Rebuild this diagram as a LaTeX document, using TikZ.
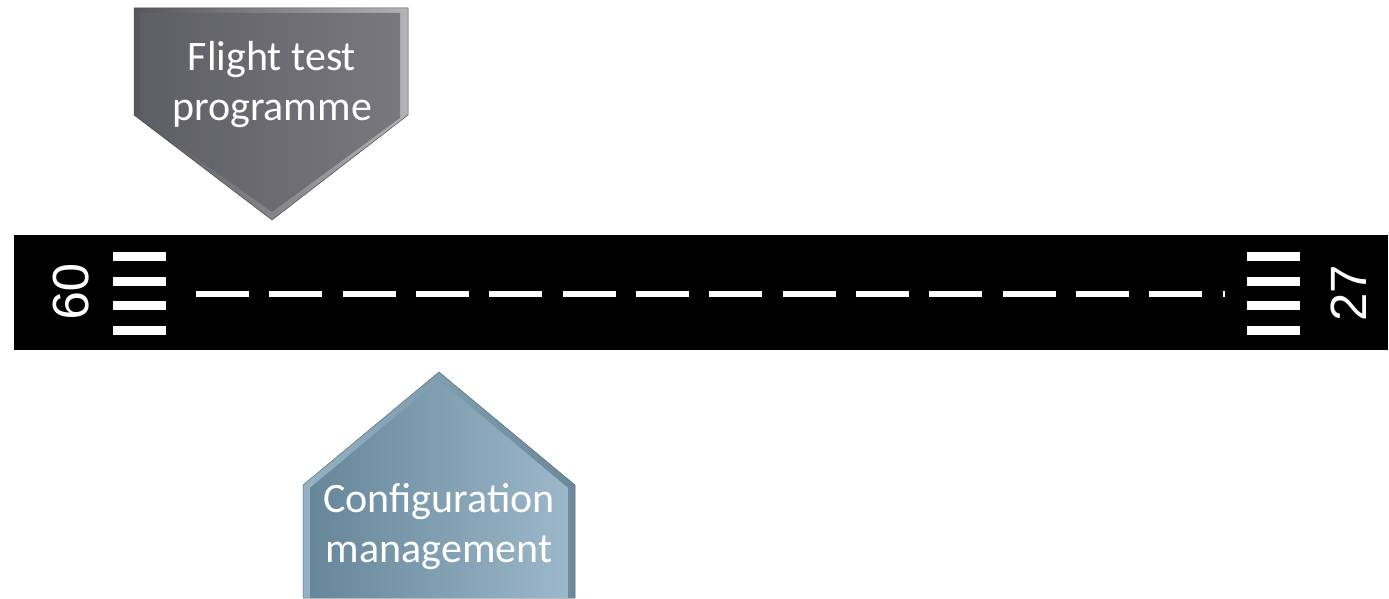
\documentclass[tikz,border=0pt]{standalone}
\usepackage{fontspec}
\setmainfont{Carlito}
\newfontfamily\numfont{Liberation Sans}

\definecolor{greyrimL}{HTML}{56575C}
\definecolor{greyrimR}{HTML}{B2B2B7}
\definecolor{greyfillL}{HTML}{5E5F64}
\definecolor{greyfillR}{HTML}{78787E}
\definecolor{bluerimL}{HTML}{93B2C3}
\definecolor{bluerimR}{HTML}{6C889A}
\definecolor{bluefillL}{HTML}{67869A}
\definecolor{bluefillR}{HTML}{9CB8CA}

\def\barw{53}
\def\barh{9}

\begin{document}
\begin{tikzpicture}[x=1pt,y=1pt,
    boxtext/.style={text=white,align=center,font=\fontsize{42}{50}\selectfont},
    rwynum/.style={text=white,font=\numfont\fontsize{51}{51}\selectfont}
    ]
    \useasboundingbox (0,0) rectangle (1389,598);

    % runway
    \fill[black] (14,248) rectangle (1388,363);
    \foreach \y in {337,312.5,288,263.5} {
      \fill[white] (113,\y) rectangle +(\barw,\barh);
      \fill[white] (1247,\y) rectangle +(\barw,\barh);
    }
    % centre line
    \draw[white,line width=6,dash pattern=on 53 off 20.33] (196,304.3) -- (1224.5,304.3);
    \node[rwynum,rotate=-90] (num09) at (71,306) {09};
    \node[rwynum,rotate=90] (num27) at (1349,305) {27};

    % flight test arrow
    \shade[left color=greyrimL,right color=greyrimR,draw=greyrimL!85!black,line width=0.5]
      (134,590) -- (408,590) -- (408,483) -- (272,378) -- (134,483) -- cycle;
    \shade[left color=greyfillL,right color=greyfillR]
      (140,585) -- (400,585) -- (400,480) -- (272,386) -- (140,480) -- cycle;
    \node[boxtext] (flight) at (272,513) {Flight test\\programme};

    % configuration arrow
    \shade[left color=bluerimL,right color=bluerimR,draw=bluerimR!80!black,line width=0.5]
      (303,0) -- (303,113) -- (439,226) -- (575,113) -- (575,0) -- cycle;
    \shade[left color=bluefillL,right color=bluefillR]
      (310,0) -- (310,110) -- (439,218) -- (568,110) -- (568,0) -- cycle;
    \node[boxtext] (config) at (439,71) {Configuration\\management};
\end{tikzpicture}
\end{document}
